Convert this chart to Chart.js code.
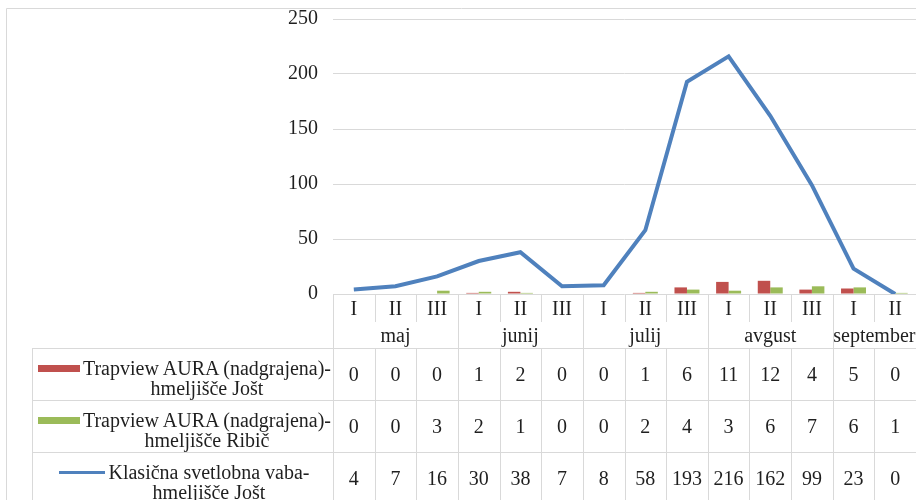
<!DOCTYPE html>
<html>
<head>
<meta charset="utf-8">
<script src="https://cdn.jsdelivr.net/npm/chart.js@4.4.1/dist/chart.umd.min.js"></script>
<style>
  html, body { margin: 0; padding: 0; background: #fff; }
  #wrap { position: relative; width: 916px; height: 500px; overflow: hidden;
          font-family: "Liberation Serif", "Times New Roman", serif; color: #1f1f1f; }
  #chart { position: absolute; left: 0; top: 0; }
  .cell { position: absolute; text-align: center; font-size: 20px; white-space: nowrap; }
  .legend { position: absolute; display: flex; align-items: center; justify-content: center; font-size: 20px; }
  .legend .txt { text-align: center; white-space: pre; line-height: 20px; margin-left: 3px; padding-top: 7px; }
</style>
</head>
<body>
<div id="wrap">
  <canvas id="chart" width="916" height="500"></canvas>
  <div id="table"></div>
</div>
<script>
const periods = ['I', 'II', 'III', 'I', 'II', 'III', 'I', 'II', 'III', 'I', 'II', 'III', 'I', 'II'];
const months = ['maj', 'junij', 'julij', 'avgust', 'september'];
const monthSpans = [3, 3, 3, 3, 2];

const seriesNames = [
  'Trapview AURA (nadgrajena)-\nhmeljišče Jošt',
  'Trapview AURA (nadgrajena)-\nhmeljišče Ribič',
  'Klasična svetlobna vaba-\nhmeljišče Jošt'
];
const auraJost = [0, 0, 0, 1, 2, 0, 0, 1, 6, 11, 12, 4, 5, 0];
const auraRibic = [0, 0, 3, 2, 1, 0, 0, 2, 4, 3, 6, 7, 6, 1];
const klasicnaJost = [4, 7, 16, 30, 38, 7, 8, 58, 193, 216, 162, 99, 23, 0];

const yTicks = [0, 50, 100, 150, 200, 250];

const colors = ['#c0504d', '#9bbb59', '#4f81bd'];
const lineColor = '#d9d9d9';

// row heights of the data table under the plot
const catRowH = 28;
const monthRowH = 26;
const dataRowH = 52;
const legendLeft = 32;

function tableGeom(chart) {
  const a = chart.chartArea;
  const colW = (a.right - a.left) / periods.length;
  const top = a.bottom;
  const monthTop = top + catRowH;
  const dataTop = monthTop + monthRowH;
  return { a, colW, top, monthTop, dataTop };
}

const tableLines = {
  id: 'tableLines',
  afterDraw(chart) {
    const { a, colW, top, monthTop, dataTop } = tableGeom(chart);
    const ctx = chart.ctx;
    const px = v => Math.round(v) + 0.5;
    ctx.save();
    ctx.strokeStyle = lineColor;
    ctx.lineWidth = 1;
    ctx.beginPath();

    // outer frame
    ctx.rect(px(6), px(8), px(a.right) - px(6), 600);

    const bounds = [0];
    monthSpans.forEach(s => bounds.push(bounds[bounds.length - 1] + s));

    for (let i = 0; i <= periods.length; i++) {
      const x = px(a.left + i * colW);
      const isMonth = bounds.includes(i);
      ctx.moveTo(x, top);
      ctx.lineTo(x, isMonth ? 500 : monthTop);
      if (!isMonth) { ctx.moveTo(x, dataTop); ctx.lineTo(x, 500); }
    }

    for (let r = 0; r < seriesNames.length; r++) {
      const y = px(dataTop + r * dataRowH);
      ctx.moveTo(legendLeft, y);
      ctx.lineTo(a.right, y);
    }
    ctx.moveTo(px(legendLeft), dataTop);
    ctx.lineTo(px(legendLeft), 500);
    ctx.stroke();
    ctx.restore();
  }
};

function buildTable(chart) {
  const { a, colW, top, monthTop, dataTop } = tableGeom(chart);
  const host = document.getElementById('table');
  host.innerHTML = '';
  const add = (cls, text, left, t, w, h) => {
    const d = document.createElement('div');
    d.className = cls;
    d.textContent = text;
    Object.assign(d.style, {
      left: left + 'px', top: t + 'px', width: w + 'px', height: h + 'px', lineHeight: h + 'px'
    });
    host.appendChild(d);
    return d;
  };

  periods.forEach((p, i) => add('cell', p, a.left + i * colW, top, colW, catRowH));

  let start = 0;
  months.forEach((m, k) => {
    add('cell', m, a.left + start * colW, monthTop, monthSpans[k] * colW, monthRowH);
    start += monthSpans[k];
  });

  const series = [auraJost, auraRibic, klasicnaJost];
  series.forEach((vals, r) => {
    const rowTop = dataTop + r * dataRowH;
    vals.forEach((v, i) => add('cell', String(v), a.left + i * colW, rowTop, colW, dataRowH));

    const lg = document.createElement('div');
    lg.className = 'legend';
    Object.assign(lg.style, {
      left: legendLeft + 'px', top: rowTop + 'px',
      width: (a.left - legendLeft + 4) + 'px', height: dataRowH + 'px'
    });
    const mk = document.createElement('span');
    const isLine = r === 2;
    Object.assign(mk.style, {
      display: 'inline-block', flex: 'none', background: colors[r],
      width: isLine ? '46px' : '42px', height: isLine ? '3px' : '7px',
      marginTop: '-12px'
    });
    const tx = document.createElement('div');
    tx.className = 'txt';
    tx.textContent = seriesNames[r];
    lg.appendChild(mk);
    lg.appendChild(tx);
    host.appendChild(lg);
  });
}

const chart = new Chart(document.getElementById('chart'), {
  data: {
    labels: periods,
    datasets: [
      { type: 'line', label: seriesNames[2], data: klasicnaJost, borderColor: colors[2],
        borderWidth: 4, pointRadius: 0, tension: 0, order: 0 },
      { type: 'bar', label: seriesNames[0], data: auraJost, backgroundColor: colors[0],
        categoryPercentage: 0.6, barPercentage: 1, order: 1 },
      { type: 'bar', label: seriesNames[1], data: auraRibic, backgroundColor: colors[1],
        categoryPercentage: 0.6, barPercentage: 1, order: 1 }
    ]
  },
  options: {
    responsive: false,
    animation: false,
    layout: { padding: { top: 19, bottom: 206, left: 0, right: -1 } },
    plugins: { legend: { display: false }, tooltip: { enabled: false } },
    scales: {
      x: { display: false, offset: true },
      y: {
        min: yTicks[0],
        max: yTicks[yTicks.length - 1],
        afterFit: s => { s.width = 333; s.paddingTop = 0; s.paddingBottom = 0; },
        afterBuildTicks: s => { s.ticks = yTicks.map(v => ({ value: v })); },
        border: { display: false },
        grid: { color: lineColor, drawTicks: false },
        ticks: {
          padding: 15,
          color: '#1f1f1f',
          font: { family: '"Liberation Serif", "Times New Roman", serif', size: 20 }
        }
      }
    }
  },
  plugins: [tableLines]
});

buildTable(chart);
</script>
</body>
</html>
